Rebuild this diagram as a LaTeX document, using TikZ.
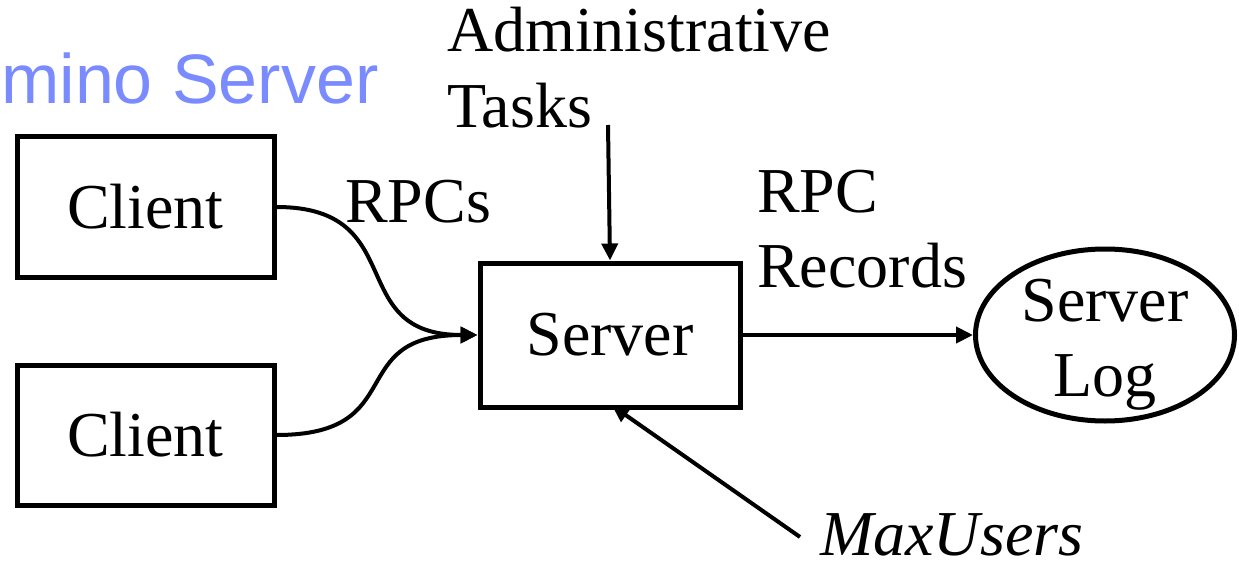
\documentclass[tikz,border=0pt]{standalone}
\usepackage{fontspec}
\setmainfont{Liberation Serif}
\newfontfamily\titlefont{Liberation Sans}
\usetikzlibrary{arrows.meta,shapes.geometric}
\definecolor{titleblue}{RGB}{122,139,255}
\tikzset{
  box/.style={draw,line width=5pt,minimum width=#1,inner sep=0pt},
  lbl/.style={anchor=base west,inner sep=0pt,font=\fontsize{64}{70}\selectfont},
  flow/.style={line width=4pt,-{Triangle[length=17pt,width=16pt]}},
}
\begin{document}
\begin{tikzpicture}[x=1pt,y=-1pt,font=\fontsize{64}{70}\selectfont]
\useasboundingbox (0,0) rectangle (1239,567);

% heading
\node[anchor=base west,inner sep=0pt,text=titleblue,font=\titlefont\fontsize{70}{76}\selectfont] (title) at (1,104) {mino Server};

% components
\node[box=257pt,minimum height=140pt] (c1) at (145.5,207) {Client};
\node[box=257pt,minimum height=140pt] (c2) at (145.5,435) {Client};
\node[box=260pt,minimum height=144pt] (srv) at (610,335) {Server};
\node[draw,ellipse,line width=5pt,minimum width=259pt,minimum height=172pt,inner sep=0pt] (log) at (1105,335) {};
\node[inner sep=0pt,align=center,font=\fontsize{64}{75}\selectfont] (logtxt) at (1105,345) {Server\\Log};

% labels
\node[lbl] (adm) at (447,52) {Administrative};
\node[lbl] (tasks) at (447,128) {Tasks};
\node[lbl] (rpcs) at (345,222) {RPCs};
\node[lbl] (rpc) at (757,212) {RPC};
\node[lbl] (rec) at (757,287) {Records};
\node[lbl,font=\fontsize{64}{70}\selectfont\itshape] (mu) at (820,555) {MaxUsers};

\coordinate (admin end) at (608,125);
\coordinate (mu end) at (800,537);

% connectors
\draw[flow] (c1.east) .. controls +(135,0) and +(-135,0) .. (srv.west);
\draw[flow] (c2.east) .. controls +(135,0) and +(-135,0) .. (srv.west);
\draw[flow] (admin end) -- (srv.north);
\draw[flow] (srv.east) -- (log.west);
\draw[flow] (mu end) -- ([xshift=2pt,yshift=4pt]srv.south);
\end{tikzpicture}
\end{document}
